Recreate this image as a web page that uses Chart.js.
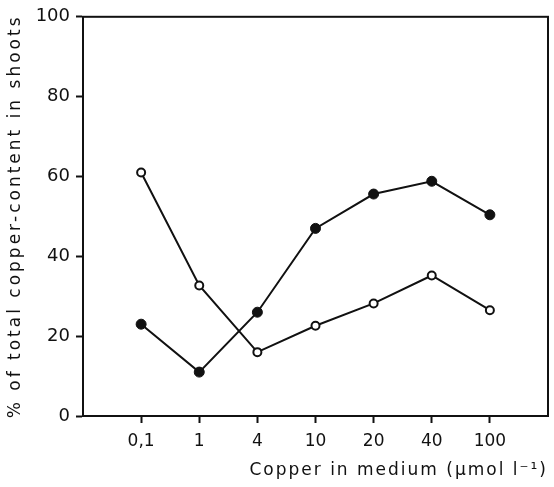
<!DOCTYPE html>
<html>
<head>
<meta charset="utf-8">
<script src="https://cdn.jsdelivr.net/npm/chart.js@4/dist/chart.umd.min.js"></script>
<style>
  html, body { margin: 0; padding: 0; background: #fff; }
  #wrap { width: 554px; height: 487px; }
</style>
</head>
<body>
<div id="wrap"><canvas id="cuChart"></canvas></div>
<script>
// copper concentrations in the medium (umol/l), shown as categories
const concentrations = ['0,1', '1', '4', '10', '20', '40', '100'];
// % of total copper content found in the shoots
const filledSeries = [23, 11, 26, 47, 55.6, 58.8, 50.4];
const openSeries = [61, 32.7, 16, 22.6, 28.2, 35.2, 26.5];
const yTicks = [0, 20, 40, 60, 80, 100];

const ink = '#111';
const font = { family: '"DejaVu Sans", sans-serif', size: 17 };

// category i sits at x = i + 1 so there is a blank slot on each side
const toPoints = vals => vals.map((v, i) => ({ x: i + 1, y: v }));

// outline the whole plot area (top and right sides too)
const frame = {
    id: 'frame',
    afterDatasetsDraw(chart) {
        const { ctx, chartArea: a } = chart;
        ctx.save();
        ctx.strokeStyle = ink;
        ctx.lineWidth = 2;
        ctx.strokeRect(a.left, a.top, a.right - a.left, a.bottom - a.top);
        ctx.restore();
    }
};

// wider letter spacing for the axis titles
const spacedTitles = {
    id: 'spacedTitles',
    beforeDraw(chart) {
        const gaps = { x: '2px', y: '3px' };
        Object.keys(gaps).forEach(id => {
            const scale = chart.scales[id];
            if (scale._spaced) return;
            const orig = scale.drawTitle;
            scale.drawTitle = function () {
                const ctx = this.ctx;
                ctx.save();
                ctx.letterSpacing = gaps[id];
                orig.call(this);
                ctx.restore();
            };
            scale._spaced = true;
        });
    }
};

new Chart(document.getElementById('cuChart'), {
    type: 'line',
    data: {
        datasets: [
            {
                data: toPoints(filledSeries),
                borderColor: ink,
                borderWidth: 2,
                pointRadius: 5,
                pointBackgroundColor: ink,
                pointBorderColor: ink,
                pointBorderWidth: 1,
                tension: 0
            },
            {
                data: toPoints(openSeries),
                borderColor: ink,
                borderWidth: 2,
                pointRadius: 4,
                pointBackgroundColor: '#fff',
                pointBorderColor: ink,
                pointBorderWidth: 2,
                tension: 0
            }
        ]
    },
    options: {
        responsive: true,
        maintainAspectRatio: false,
        animation: false,
        layout: { padding: { top: 13, right: 3, left: 0, bottom: 0 } },
        plugins: { legend: { display: false }, tooltip: { enabled: false } },
        scales: {
            x: {
                type: 'linear',
                min: 0,
                max: 8,
                afterFit: s => { s.height = 71; },
                afterBuildTicks: s => { s.ticks = concentrations.map((_, i) => ({ value: i + 1 })); },
                ticks: {
                    color: ink,
                    font: font,
                    padding: 8,
                    maxRotation: 0,
                    callback: v => concentrations[v - 1] ?? ''
                },
                grid: { drawOnChartArea: false, color: ink, tickLength: 7, tickWidth: 2 },
                border: { color: ink, width: 2 },
                title: {
                    display: true,
                    align: 'end',
                    text: 'Copper in medium (\u00b5mol l\u207b\u00b9)',
                    color: ink,
                    font: font,
                    padding: { top: 0, bottom: 6 }
                }
            },
            y: {
                min: 0,
                max: 100,
                afterFit: s => { s.width = 83; },
                afterBuildTicks: s => { s.ticks = yTicks.map(v => ({ value: v })); },
                ticks: { color: ink, font: { ...font, size: 18 }, padding: 6 },
                grid: { drawOnChartArea: false, color: ink, tickLength: 7, tickWidth: 2 },
                border: { color: ink, width: 2 },
                title: {
                    display: true,
                    text: '% of total copper-content in shoots',
                    color: ink,
                    font: font,
                    padding: { top: 5, bottom: 0 }
                }
            }
        }
    },
    plugins: [frame, spacedTitles]
});
</script>
</body>
</html>
